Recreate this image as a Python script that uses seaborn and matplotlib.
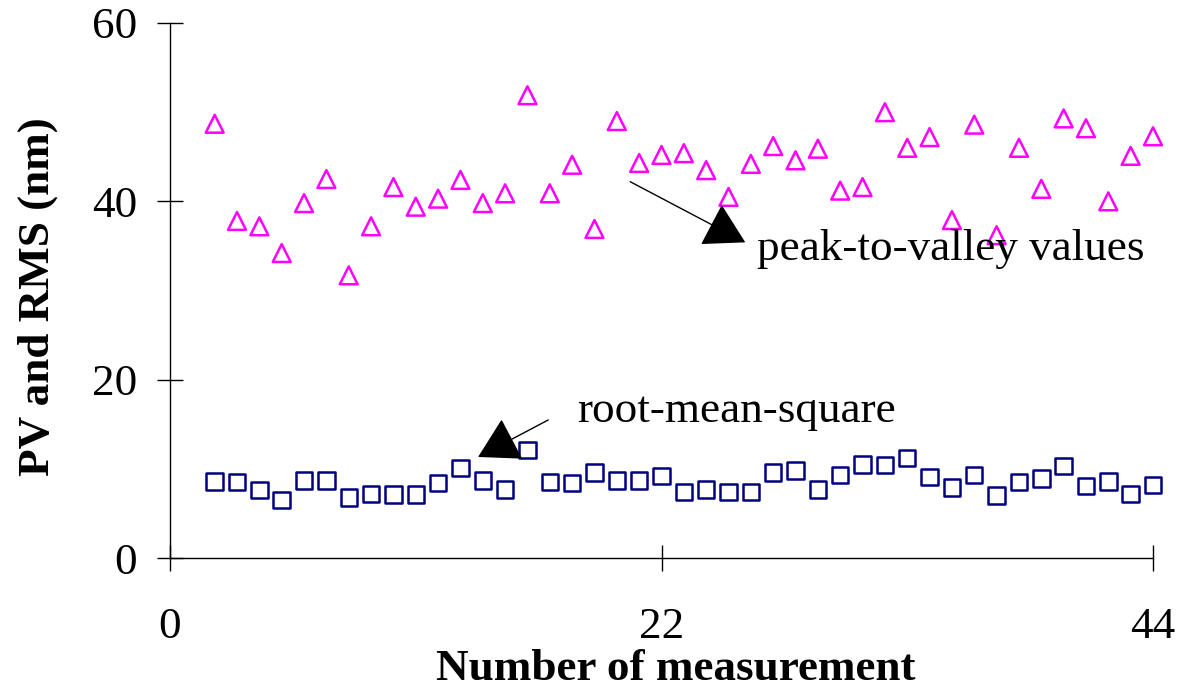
import matplotlib
matplotlib.use("Agg")
import matplotlib.pyplot as plt
import seaborn as sns
import pandas as pd
import numpy as np

measurement = list(range(2, 45))
pv_values = [48.7, 37.8, 37.2, 34.2, 39.8, 42.5, 31.7, 37.2, 41.6, 39.4,
             40.3, 42.4, 39.8, 40.9, 51.9, 40.9, 44.1, 36.9, 49.0, 44.3,
             45.2, 45.4, 43.5, 40.5, 44.2, 46.2, 44.6, 45.9, 41.2, 41.6,
             50.0, 46.0, 47.2, 37.9, 48.6, 36.2, 46.0, 41.4, 49.3, 48.2,
             40.0, 45.1, 47.3]
rms_values = [8.6, 8.5, 7.6, 6.5, 8.7, 8.7, 6.8, 7.2, 7.1, 7.1,
              8.4, 10.1, 8.7, 7.7, 12.1, 8.5, 8.4, 9.6, 8.7, 8.7,
              9.2, 7.4, 7.7, 7.4, 7.4, 9.6, 9.8, 7.7, 9.3, 10.5,
              10.4, 11.2, 9.1, 7.9, 9.3, 7.0, 8.5, 8.9, 10.3, 8.1,
              8.6, 7.2, 8.2]
x_ticks = [0, 22, 44]
y_ticks = [0, 20, 40, 60]

df = pd.DataFrame({"n": measurement, "pv": pv_values, "rms": rms_values})

sns.set_style("white")
plt.rcParams["font.family"] = ["Liberation Serif", "DejaVu Serif"]
plt.rcParams["text.color"] = "black"
plt.rcParams["axes.labelcolor"] = "black"

FS = 32.5

fig = plt.figure(figsize=(11.79, 6.91), dpi=100)
ax = fig.add_axes([170 / 1179, 1 - 558 / 691, (1153 - 170) / 1179, (558 - 23) / 691])

sns.scatterplot(data=df, x="n", y="pv", marker="^", s=165, facecolors="none",
                edgecolor="#FF00FF", linewidth=1.8, ax=ax, clip_on=False)
sns.scatterplot(data=df, x="n", y="rms", marker="s", s=140, facecolors="none",
                edgecolor="#000080", linewidth=1.8, ax=ax, clip_on=False)

ax.set_xlim(0, 44)
ax.set_ylim(0, 60)
ax.set_xticks(x_ticks)
ax.set_yticks(y_ticks)
ax.set_xticklabels([str(t) for t in x_ticks])
ax.set_yticklabels([str(t) for t in y_ticks])

for s in ["top", "right"]:
    ax.spines[s].set_visible(False)
for s in ["left", "bottom"]:
    ax.spines[s].set_color("black")
    ax.spines[s].set_linewidth(1.0)

ax.tick_params(axis="both", which="major", bottom=True, left=True,
               direction="inout", length=19, width=1.0,
               color="black", labelsize=FS, labelcolor="black")
ax.tick_params(axis="y", pad=14)
ax.tick_params(axis="x", pad=26)

ax.set_xlabel("Number of measurement", fontsize=FS, fontweight="bold", color="black")
ax.set_ylabel("PV and RMS (nm)", fontsize=FS, fontweight="bold", color="black")
ax.xaxis.set_label_coords(0.515, -0.171)
ax.yaxis.set_label_coords(-0.114, 0.488)

ax.text(26.29, 33.4, "peak-to-valley values", fontsize=FS, va="baseline", ha="left", color="black")
ax.text(18.23, 15.29, "root-mean-square", fontsize=FS, va="baseline", ha="left", color="black")

arrow_kw = dict(arrowstyle="-|>,head_length=1.3,head_width=0.75", color="black",
                lw=1.0, mutation_scale=20, shrinkA=0, shrinkB=0)
ax.annotate("", xy=(25.75, 35.4), xytext=(20.6, 42.2), arrowprops=arrow_kw)
ax.annotate("", xy=(13.79, 11.33), xytext=(16.93, 15.48), arrowprops=arrow_kw)

fig.savefig("out.png", dpi=100)
